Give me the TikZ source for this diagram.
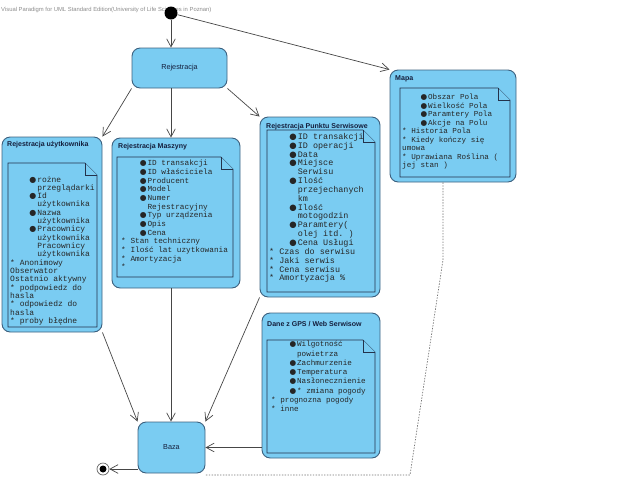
\documentclass[tikz,border=0pt]{standalone}
\usepackage{fontspec}
\setmainfont{Liberation Sans}
\setmonofont{Liberation Mono}
\newfontfamily\symfont{DejaVu Sans}
\usepackage{tikz}
\usetikzlibrary{positioning, arrows.meta, calc}
\definecolor{statefill}{RGB}{122,204,242}
\definecolor{stateedge}{RGB}{62,98,128}
\definecolor{noteedge}{RGB}{35,50,75}
\definecolor{titletext}{RGB}{20,30,60}
\definecolor{flowline}{RGB}{70,70,70}
\newcommand{\bl}{\hspace*{2.4em}\makebox[1em][l]{\smash{\symfont ●}}}
\newcommand{\cn}{\hspace*{3.4em}}
\lineskiplimit=-20pt
\lineskip=0pt

\begin{document}
\begin{tikzpicture}[x=0.3mm, y=-0.3mm,
    statebox/.style 2 args={draw=stateedge, fill=statefill, line width=0.8pt, rounded corners=7pt,
        minimum width=#1*0.3mm, minimum height=#2*0.3mm, inner sep=0pt},
    statetitle/.style={font=\fontsize{6}{7}\selectfont\bfseries, text=titletext, anchor=west, inner sep=0pt},
    note/.style={draw=noteedge, fill=statefill, line width=0.6pt},
    notetext/.style 2 args={font=\ttfamily\fontsize{#1}{#2}\selectfont,
        align=left, anchor=north west, inner sep=0pt, text=black!85},
    flow/.style={draw=flowline, line width=0.6pt, -{Straight Barb[length=2.4mm, width=2.6mm]}},
    trace/.style={draw=black!55, line width=0.6pt, dash pattern=on 1.2pt off 1.2pt}]

    \useasboundingbox (0,0) rectangle (638,479);

    % === NAGLOWEK ===
    \node[font=\fontsize{5}{6}\selectfont, text=black!45, anchor=west, inner sep=0pt] (header) at (1,10)
        {Visual Paradigm for UML Standard Edition(University of Life Sciences in Poznan)};

    % === STANY ===
    \node[statebox={95}{40}] (rej) at (179.5,68) {};
    \node[font=\fontsize{6.2}{7}\selectfont, text=titletext] (rejlabel) at (rej) {Rejestracja};

    \node[statebox={100}{195}] (uzyt) at (52,234.5) {};
    \node[statebox={128}{150}] (masz) at (176,213) {};
    \node[statebox={120}{180}] (punk) at (320,207) {};
    \node[statebox={126}{112}] (mapa) at (453,126) {};
    \node[statebox={118}{145}] (dane) at (321,385.5) {};
    \node[statebox={67}{51}] (baza) at (171.5,447.5) {};
    \node[font=\fontsize{6.2}{7}\selectfont, text=titletext] (bazalabel) at (baza) {Baza};

    % tytuly
    \node[statetitle] (uzyttitle) at (7,145) {Rejestracja użytkownika};
    \node[statetitle] (masztitle) at (118,147) {Rejestracja Maszyny};
    \node[statetitle] (punktitle) at (266,127) {Rejestracja Punktu Serwisowe};
    \node[statetitle] (mapatitle) at (395,79) {Mapa};
    \node[statetitle] (danetitle) at (267,324) {Dane z GPS / Web Serwisow};

    % === NOTATKI ===
    \draw[note] (8,163) -- (85,163) -- (97,175) -- (97,327) -- (8,327) -- cycle;
    \draw[note] (85,163) -- (85,175) -- (97,175);
    \node[notetext={6.8}{7.1}] (uzytnote) at (10,176) {%
        \bl rożne\\ \cn przeglądarki\\ \bl Id\\ \cn użytkownika\\ \bl Nazwa\\ \cn użytkownika\\
        \bl Pracownicy\\ \cn użytkownika\\ \cn Pracownicy\\ \cn użytkownika\\
        * Anonimowy\\ Obserwator\\ Ostatnio aktywny\\ * podpowiedz do\\ hasla\\
        * odpowiedz do\\ hasla\\ * proby błędne};

    \draw[note] (117,157) -- (221,157) -- (233,169) -- (233,277) -- (117,277) -- cycle;
    \draw[note] (221,157) -- (221,169) -- (233,169);
    \node[notetext={6.6}{7.4}] (masznote) at (121,160) {%
        \bl ID transakcji\\ \bl ID właściciela\\ \bl Producent\\ \bl Model\\ \bl Numer\\
        \cn Rejestracyjny\\ \bl Typ urządzenia\\ \bl Opis\\ \bl Cena\\
        * Stan techniczny\\ * Ilość lat uzytkowania\\ * Amortyzacja\\ *};

    \draw[note] (267,130) -- (363,130) -- (375,142) -- (375,292) -- (267,292) -- cycle;
    \draw[note] (363,130) -- (363,142) -- (375,142);
    \node[notetext={7.2}{7.55}] (punknote) at (269,133) {%
        \bl ID transakcji\\ \bl ID operacji\\ \bl Data\\ \bl Miejsce\\ \cn Serwisu\\
        \bl Ilość\\ \cn przejechanych\\ \cn km\\ \bl Ilość\\ \cn motogodzin\\
        \bl Paramtery(\\ \cn olej itd. )\\ \bl Cena Usługi\\
        * Czas do serwisu\\ * Jaki serwis\\ * Cena serwisu\\ * Amortyzacja \%};

    \draw[note] (400,88) -- (498,88) -- (510,100) -- (510,177) -- (400,177) -- cycle;
    \draw[note] (498,88) -- (498,100) -- (510,100);
    \node[notetext={6.5}{7.25}] (mapanote) at (402,94) {%
        \bl Obszar Pola\\ \bl Wielkość Pola\\ \bl Paramtery Pola\\ \bl Akcje na Polu\\
        * Historia Pola\\ * Kiedy kończy się\\ umowa\\ * Uprawiana Roślina (\\ jej stan )};

    \draw[note] (267,340) -- (363,340) -- (375,352) -- (375,453) -- (267,453) -- cycle;
    \draw[note] (363,340) -- (363,352) -- (375,352);
    \node[notetext={6.5}{7.9}] (danenote) at (271,341) {%
        \bl Wilgotność\\ \cn powietrza\\ \bl Zachmurzenie\\ \bl Temperatura\\
        \bl Nasłonecznienie\\ \bl * zmiana pogody\\ * prognozna pogody\\ * inne};

    % === POCZATEK I KONIEC ===
    \node[circle, fill=black, minimum size=13*0.3mm, inner sep=0pt] (init) at (171,13) {};
    \node[circle, draw=black!60, fill=white, line width=0.6pt, minimum size=12*0.3mm, inner sep=0pt] (fin) at (103,469) {};
    \node[circle, fill=black, minimum size=7*0.3mm, inner sep=0pt] (fincore) at (fin) {};

    % === PRZEJSCIA ===
    \draw[flow] (init) -- (init |- rej.north);
    \draw[flow] (init) -- (mapa.north west);
    \draw[flow] (rej.south west) -- (uzyt.north east);
    \draw[flow] (rej.south -| init) -- (masz.north -| init);
    \draw[flow] (rej.south east) -- (punk.north west);
    \draw[flow] (uzyt.south east) -- (baza.north west);
    \draw[flow] (masz.south -| init) -- (baza.north -| init);
    \draw[flow] (punk.south west) -- (baza.north east);
    \draw[flow] (dane.west |- baza.east) -- (baza.east);
    \draw[flow] (fin -| baza.west) -- (fin);

    % zaleznosc Mapa -> Baza
    \coordinate (bend1) at (443,260);
    \coordinate (bend2) at (410,475);
    \draw[trace] (bend1 |- mapa.south) -- (bend1) -- (bend2) -- (bend2 -| baza.east);

\end{tikzpicture}
\end{document}
